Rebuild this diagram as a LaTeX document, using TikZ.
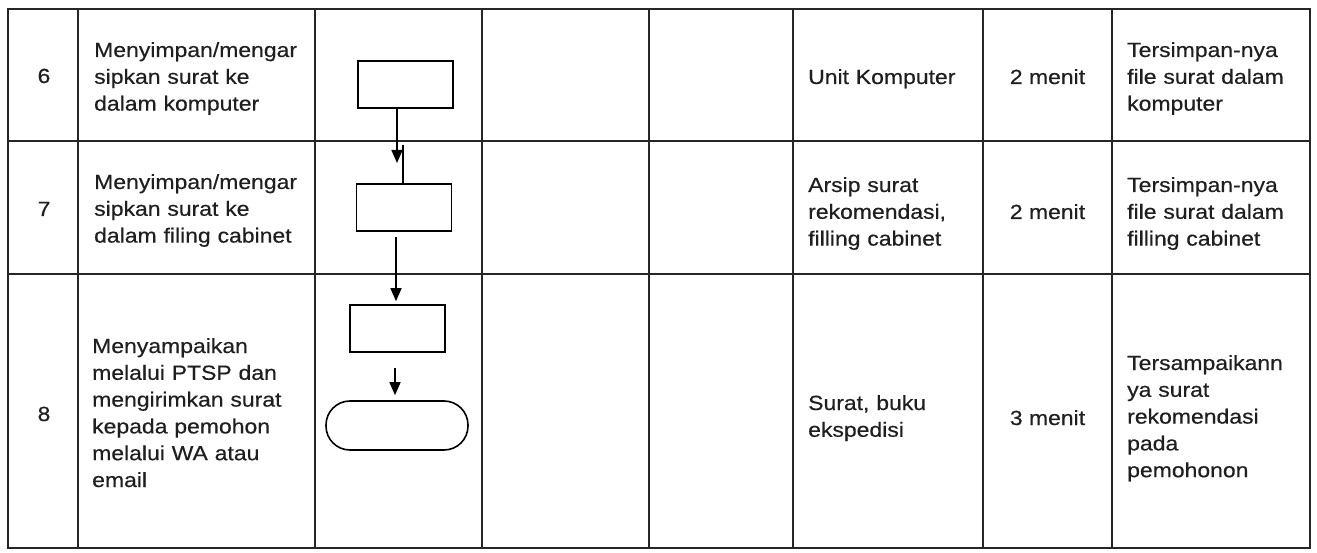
\documentclass[tikz,border=0pt]{standalone}
\usepackage{fontspec}
\setmainfont{Liberation Sans}[FakeStretch=1.12,FakeBold=0.4]
\usetikzlibrary{arrows.meta}
\begin{document}
\begin{tikzpicture}[x=1pt,y=-1pt,
  grid/.style={line width=1.3pt,draw=black!85},
  boxs/.style={draw=black,line width=1.6pt,minimum width=95pt,minimum height=47pt,inner sep=0pt},
  termin/.style={draw=black,line width=1.6pt,rounded corners=24pt,minimum width=142pt,minimum height=49pt,inner sep=0pt},
  arr/.style={line width=1.5pt,-{Triangle[length=13pt,width=11pt]}},
  plain/.style={line width=1.5pt},
  txt/.style={font=\fontsize{20.5}{26.8}\selectfont,text=black!88,inner sep=0pt,text width=230pt,align=left,anchor=base west},
  num/.style={font=\fontsize{20.5}{26.8}\selectfont,text=black!88,inner sep=0pt,anchor=base},
]
\useasboundingbox (0,0) rectangle (1317,553);
\fill[white] (0,0) rectangle (1317,553);
% table grid
\draw[grid] (8,9) rectangle (1310,548);
\foreach \xx in {78,315,482,649,793,983,1112}
  \draw[grid] (\xx,9) -- (\xx,548);
\draw[grid] (8,141) -- (1310,141);
\draw[grid] (8,274) -- (1310,274);
% numbers
\node[num] (n6) at (44,83) {6};
\node[num] (n7) at (44,216) {7};
\node[num] (n8) at (44,421) {8};
% activity texts
\node[txt] (a6) at (94,57) {Menyimpan/mengar\\sipkan surat ke\\dalam komputer};
\node[txt] (a7) at (94,189) {Menyimpan/mengar\\sipkan surat ke\\dalam filing cabinet};
\node[txt] (a8) at (92,353) {Menyampaikan\\melalui PTSP dan\\mengirimkan surat\\kepada pemohon\\melalui WA atau\\email};
% equipment
\node[txt] (k6) at (808,84) {Unit Komputer};
\node[txt] (k7) at (808,192) {Arsip surat\\rekomendasi,\\filling cabinet};
\node[txt] (k8) at (808,410) {Surat, buku\\ekspedisi};
% time
\node[num] (w6) at (1047.5,84) {2 menit};
\node[num] (w7) at (1047.5,219) {2 menit};
\node[num] (w8) at (1047.5,425) {3 menit};
% output
\node[txt] (o6) at (1127,57) {Tersimpan-nya\\file surat dalam\\komputer};
\node[txt] (o7) at (1127,192) {Tersimpan-nya\\file surat dalam\\filling cabinet};
\node[txt] (o8) at (1127,370) {Tersampaikann\\ya surat\\rekomendasi\\pada\\pemohonon};
% flow shapes
\node[boxs] (box1) at (405.5,84.5) {};
\node[boxs] (box2) at (404,207.5) {};
\node[boxs] (box3) at (397.5,328.5) {};
\node[termin] (term) at (397,425.5) {};
% connectors
\coordinate (t1) at (397,163);
\coordinate (s2) at (403,145);
\coordinate (s3) at (396,237);
\coordinate (s4) at (395,368);
\draw[arr] (t1 |- box1.south) -- (t1);
\draw[plain] (s2) -- (s2 |- box2.north);
\draw[arr,shorten >=3pt] (s3) -- (s3 |- box3.north);
\draw[arr,shorten >=5pt] (s4) -- (s4 |- term.north);
\end{tikzpicture}
\end{document}
